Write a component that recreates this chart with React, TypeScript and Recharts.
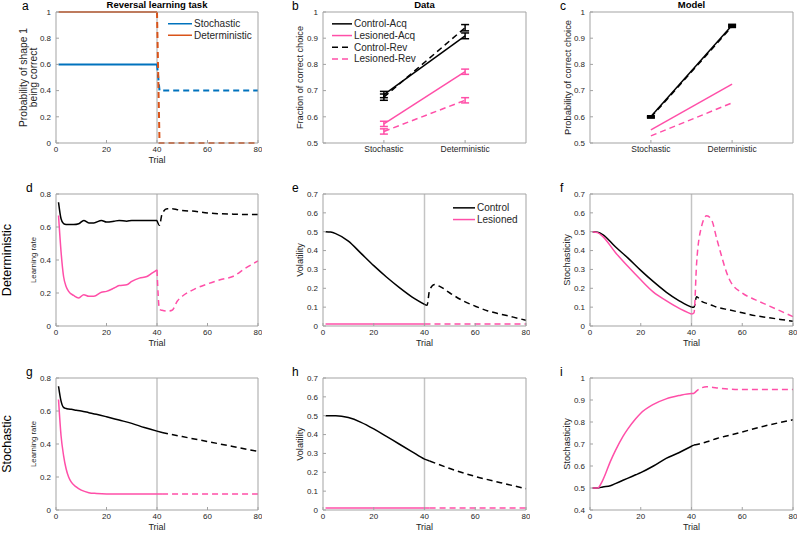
import React from 'react';
import { LineChart, Line, XAxis, YAxis, ReferenceLine, ErrorBar, Legend } from 'recharts';

const FONT = '"Liberation Sans", Arial, Helvetica, sans-serif';
const AXIS = '#a3a3a3';
const TXT = '#262626';
const BLACK = '#000000';
const PINK = '#ff4fa8';
const BLUE = '#0072bd';
const ORANGE = '#d95319';
const DASH = '6 4';

// a: task structure
const aNames = ['Stochastic', 'Deterministic'];
const aAcqT = [1, 40];
const aRevT = [40, 41, 80];
const aStochAcq = [0.6, 0.6];
const aStochRev = [0.6, 0.4, 0.4];
const aDetAcq = [1, 1];
const aDetRev = [1, 0, 0];

// b, c: choice accuracy
const bNames = ['Control-Acq', 'Lesioned-Acq', 'Control-Rev', 'Lesioned-Rev'];
const conditions = ['Stochastic', 'Deterministic'];
const condX = [1, 2];
const bCtrlAcq = [0.685, 0.909];
const bCtrlAcqErr = [0.012, 0.011];
const bLesAcq = [0.573, 0.772];
const bLesAcqErr = [0.01, 0.01];
const bCtrlRev = [0.675, 0.94];
const bCtrlRevErr = [0.012, 0.012];
const bLesRev = [0.544, 0.663];
const bLesRevErr = [0.01, 0.01];
const cCtrlAcq = [0.601, 0.949];
const cCtrlRev = [0.598, 0.945];
const cLesAcq = [0.55, 0.725];
const cLesRev = [0.527, 0.653];
const cErr = [0.003, 0.004];

// d: learning rate, deterministic
const dAcqT = [1, 2, 3, 4, 5, 7, 9, 11, 13, 15, 18, 20, 23, 25, 28, 30, 33, 36, 38, 40];
const dBlackAcq = [0.75, 0.65, 0.62, 0.615, 0.615, 0.615, 0.62, 0.64, 0.625, 0.625, 0.64, 0.63, 0.635, 0.64, 0.635, 0.64, 0.64, 0.64, 0.64, 0.64];
const dPinkAcq = [0.67, 0.45, 0.3, 0.24, 0.21, 0.185, 0.17, 0.19, 0.18, 0.18, 0.205, 0.21, 0.23, 0.245, 0.25, 0.27, 0.29, 0.3, 0.32, 0.34];
const dRevT = [40, 41, 42, 44, 46, 48, 50, 55, 60, 65, 70, 75, 80];
const dBlackRev = [0.64, 0.61, 0.68, 0.71, 0.71, 0.705, 0.7, 0.695, 0.685, 0.68, 0.678, 0.676, 0.675];
const dPinkRev = [0.34, 0.1, 0.095, 0.09, 0.095, 0.15, 0.18, 0.225, 0.255, 0.28, 0.3, 0.35, 0.395];

// e: volatility, deterministic
const eNames = ['Control', 'Lesioned'];
const eAcqT = [1, 3, 5, 10, 15, 20, 25, 30, 35, 40];
const eBlackAcq = [0.5, 0.498, 0.49, 0.45, 0.385, 0.32, 0.26, 0.205, 0.155, 0.115];
const eRevT = [40, 41, 42, 44, 46, 50, 55, 60, 65, 70, 75, 80];
const eBlackRev = [0.115, 0.11, 0.19, 0.22, 0.21, 0.175, 0.135, 0.105, 0.08, 0.063, 0.047, 0.03];
const ePinkT = [1, 40];
const ePinkRevT = [40, 80];
const ePink = [0.01, 0.01];

// f: stochasticity, deterministic
const fAcqT = [1, 3, 5, 10, 15, 20, 25, 30, 35, 40];
const fBlackAcq = [0.5, 0.497, 0.485, 0.42, 0.36, 0.295, 0.235, 0.18, 0.135, 0.1];
const fPinkAcq = [0.5, 0.495, 0.475, 0.39, 0.315, 0.245, 0.18, 0.135, 0.095, 0.063];
const fRevT = [40, 41, 42, 44, 46, 48, 50, 55, 60, 65, 70, 75, 80];
const fBlackRev = [0.1, 0.1, 0.155, 0.13, 0.12, 0.11, 0.1, 0.085, 0.07, 0.055, 0.045, 0.035, 0.025];
const fPinkRev = [0.063, 0.07, 0.33, 0.53, 0.585, 0.56, 0.46, 0.245, 0.175, 0.14, 0.11, 0.08, 0.05];

// g: learning rate, stochastic
const gAcqT = [1, 2, 3, 4, 5, 6, 8, 10, 13, 16, 20, 25, 30, 35, 40, 42];
const gBlackAcq = [0.75, 0.66, 0.622, 0.615, 0.612, 0.61, 0.605, 0.6, 0.59, 0.58, 0.565, 0.545, 0.525, 0.5, 0.478, 0.47];
const gPinkAcq = [0.67, 0.45, 0.33, 0.25, 0.2, 0.17, 0.14, 0.12, 0.105, 0.1, 0.097, 0.097, 0.097, 0.097, 0.097, 0.097];
const gRevT = [42, 50, 60, 70, 80];
const gBlackRev = [0.47, 0.445, 0.415, 0.385, 0.355];
const gPinkRev = [0.097, 0.097, 0.097, 0.097, 0.097];

// h: volatility, stochastic
const hAcqT = [1, 5, 10, 15, 20, 25, 30, 35, 40, 42];
const hBlackAcq = [0.5, 0.5, 0.49, 0.465, 0.43, 0.39, 0.35, 0.31, 0.27, 0.26];
const hRevT = [42, 50, 60, 70, 80];
const hBlackRev = [0.26, 0.22, 0.178, 0.145, 0.113];
const hPinkT = [1, 42];
const hPinkRevT = [42, 80];
const hPink = [0.01, 0.01];

// i: stochasticity, stochastic
const iAcqT = [1, 3, 5, 8, 10, 13, 15, 18, 20, 25, 30, 35, 40, 41];
const iPinkAcq = [0.5, 0.5, 0.535, 0.62, 0.67, 0.735, 0.77, 0.815, 0.84, 0.88, 0.905, 0.92, 0.93, 0.93];
const iBlackAcq = [0.5, 0.5, 0.505, 0.51, 0.52, 0.535, 0.545, 0.56, 0.57, 0.6, 0.635, 0.66, 0.69, 0.695];
const iRevT = [41, 43, 46, 50, 55, 60, 70, 80];
const iPinkRev = [0.93, 0.95, 0.96, 0.955, 0.95, 0.948, 0.948, 0.948];
const iBlackRev = [0.695, 0.7, 0.71, 0.725, 0.74, 0.755, 0.785, 0.81];

const trialTicks = [0, 20, 40, 60, 80];
const ticks01 = [0, 0.2, 0.4, 0.6, 0.8, 1];
const ticksAcc = [0.5, 0.6, 0.7, 0.8, 0.9, 1];
const ticksLr = [0, 0.2, 0.4, 0.6, 0.8];
const ticks07 = [0, 0.1, 0.2, 0.3, 0.4, 0.5, 0.6, 0.7];
const ticksStoch = [0.4, 0.5, 0.6, 0.7, 0.8, 0.9, 1];

const pts = (xs: number[], ys: number[], es?: number[]) =>
  xs.map((x, i) => ({ x, y: ys[i], e: es ? es[i] : 0 }));

const ML = 56;
const MT = 12;
const MR = 4;
const MB = 30;

function LegendBox({ payload, lineLen, rowH, order }: any) {
  const items = (payload || [])
    .filter((p: any) => p.type !== 'none')
    .slice()
    .sort((p: any, q: any) => order.indexOf(p.value) - order.indexOf(q.value));
  return (
    <svg width={lineLen + 90} height={items.length * rowH} style={{ display: 'block', overflow: 'visible' }}>
      {items.map((p: any, i: number) => {
        const cy = rowH / 2 + i * rowH;
        return (
          <g key={i}>
            <line x1={0} x2={lineLen} y1={cy} y2={cy} stroke={p.color} strokeWidth={1.5}
              strokeDasharray={p.payload && p.payload.strokeDasharray} />
            <text x={lineLen + 2} y={cy} dominantBaseline="central" fontSize={10} fontFamily={FONT} fill={TXT}>
              {p.value}
            </text>
          </g>
        );
      })}
    </svg>
  );
}

type PanelProps = {
  px: number; py: number; w: number; h: number;
  letter: string; letterX: number;
  title?: string;
  yLabel: string[];
  yLabelSize?: number;
  rowLabel?: string;
  xDomain: [number, number]; xTicks: number[]; xFormat?: (v: number) => string;
  xLabel?: string;
  yDomain: [number, number]; yTicks: number[];
  vline?: boolean;
  legend?: { x: number; y: number; lineLen: number; rowH: number; order: string[] };
  children: React.ReactNode;
};

function Panel(props: PanelProps) {
  const { px, py, w, h, letter, letterX, title, yLabel, yLabelSize = 9.2, rowLabel, xDomain, xTicks, xFormat,
    xLabel, yDomain, yTicks, vline, legend, children } = props;
  const W = ML + w + MR;
  const H = MT + h + MB;
  const sx = px - ML;
  const sy = py - MT;
  const cy = MT + h / 2;
  const tick = { fontSize: 8, fill: TXT, fontFamily: FONT };

  const topDecor = () => (
    <g fontFamily={FONT}>
      <text x={letterX - sx} y={MT - 2} fontSize={12} fill="#000">{letter}</text>
      {title && (
        <text x={ML + w / 2} y={MT - 4} fontSize={9.5} fontWeight="bold" textAnchor="middle" fill="#000">{title}</text>
      )}
    </g>
  );
  const leftDecor = () => (
    <g fontFamily={FONT} fill={TXT}>
      {yLabel.map((s, i) => {
        const x = ML - 23 - (yLabel.length - 1 - i) * 9.5;
        return (
          <text key={i} x={x} y={cy} fontSize={yLabelSize} textAnchor="middle" dominantBaseline="central"
            transform={`rotate(-90 ${x} ${cy})`}>{s}</text>
        );
      })}
      {rowLabel && (
        <text x={11 - sx} y={cy} fontSize={12.5} textAnchor="middle" fill="#000"
          transform={`rotate(-90 ${11 - sx} ${cy})`}>{rowLabel}</text>
      )}
    </g>
  );
  const bottomDecor = () =>
    xLabel ? (
      <text x={ML + w / 2} y={MT + h + 20} fontSize={9} textAnchor="middle" fontFamily={FONT} fill={TXT}>{xLabel}</text>
    ) : null;

  return (
    <div style={{ position: 'absolute', left: sx, top: sy, width: W, height: H }}>
      <LineChart width={W} height={H} margin={{ top: MT - 1, right: MR - 1, left: 0, bottom: 0 }}>
        <XAxis type="number" dataKey="x" domain={xDomain} ticks={xTicks} interval={0}
          tickSize={-3} tickMargin={6} stroke={AXIS} height={MB}
          tick={{ ...tick, fontSize: xFormat ? 8.5 : 8 }} tickFormatter={xFormat} label={bottomDecor} />
        <XAxis xAxisId="top" orientation="top" type="number" domain={xDomain} ticks={xTicks}
          allowDataOverflow tick={false} tickSize={-3} stroke={AXIS} height={1} label={topDecor} />
        <YAxis type="number" domain={yDomain} ticks={yTicks} interval={0} tickSize={-3} tickMargin={8}
          stroke={AXIS} width={ML} tick={tick} label={leftDecor} />
        <YAxis yAxisId="right" orientation="right" type="number" domain={yDomain} ticks={yTicks}
          allowDataOverflow tick={false} tickSize={-3} stroke={AXIS} width={1} />
        {vline && <ReferenceLine x={40} stroke="#c4c4c4" strokeWidth={1.5} />}
        {children}
        {legend && (
          <Legend layout="vertical" align="center" verticalAlign="middle"
            itemSorter={(item: any) => legend.order.indexOf(item.value)}
            wrapperStyle={{ left: legend.x - sx, top: legend.y - legend.rowH / 2 - sy, width: 'auto' }}
            content={(p: any) => (
              <LegendBox payload={p.payload} lineLen={legend.lineLen} rowH={legend.rowH} order={legend.order} />
            )} />
        )}
      </LineChart>
    </div>
  );
}

function series(xs: number[], ys: number[], color: string, opts: any = {}) {
  const { dashed, name, width = 1.5, type = 'monotone', errs, key } = opts;
  return (
    <Line key={key} data={pts(xs, ys, errs)} dataKey="y" name={name} type={type} stroke={color}
      strokeWidth={width} strokeDasharray={dashed ? DASH : undefined} dot={false}
      legendType={name ? 'line' : 'none'} isAnimationActive={false}>
      {errs && <ErrorBar dataKey="e" width={4} stroke={color} strokeWidth={1.5} direction="y" />}
    </Line>
  );
}

const condFormat = (v: number) => conditions[Math.round(v) - 1] || '';

export default function App() {
  return (
    <div style={{ position: 'absolute', left: 0, top: 0, width: 798, height: 533, overflow: 'hidden', background: '#fff', fontFamily: FONT }}>
      <Panel px={56} py={12} w={202} h={131} letter="a" letterX={22} title="Reversal learning task"
        yLabel={['Probability of shape 1', 'being correct']} yLabelSize={10.3} xDomain={[0, 80]} xTicks={trialTicks} xLabel="Trial"
        yDomain={[0, 1]} yTicks={ticks01} vline legend={{ x: 168, y: 24, lineLen: 24, rowH: 11.5, order: aNames }}>
        {series(aAcqT, aStochAcq, BLUE, { key: 1, name: aNames[0], type: 'linear', width: 2 })}
        {series(aAcqT, aDetAcq, ORANGE, { key: 2, name: aNames[1], type: 'linear', width: 2 })}
        {series(aRevT, aStochRev, BLUE, { key: 3, dashed: true, type: 'linear', width: 2 })}
        {series(aRevT, aDetRev, ORANGE, { key: 4, dashed: true, type: 'linear', width: 2 })}
      </Panel>

      <Panel px={323} py={12} w={203} h={131} letter="b" letterX={292} title="Data"
        yLabel={['Fraction of correct choice']} xDomain={[0.25, 2.75]} xTicks={condX} xFormat={condFormat}
        yDomain={[0.5, 1]} yTicks={ticksAcc} legend={{ x: 332, y: 24, lineLen: 20, rowH: 11.7, order: bNames }}>
        {series(condX, bCtrlAcq, BLACK, { key: 1, name: bNames[0], type: 'linear', errs: bCtrlAcqErr })}
        {series(condX, bLesAcq, PINK, { key: 2, name: bNames[1], type: 'linear', errs: bLesAcqErr })}
        {series(condX, bCtrlRev, BLACK, { key: 3, name: bNames[2], type: 'linear', dashed: true, errs: bCtrlRevErr })}
        {series(condX, bLesRev, PINK, { key: 4, name: bNames[3], type: 'linear', dashed: true, errs: bLesRevErr })}
      </Panel>

      <Panel px={590} py={12} w={203} h={131} letter="c" letterX={560} title="Model"
        yLabel={['Probability of correct choice']} yLabelSize={9.4} xDomain={[0.25, 2.75]} xTicks={condX} xFormat={condFormat}
        yDomain={[0.5, 1]} yTicks={ticksAcc}>
        {series(condX, cCtrlAcq, BLACK, { key: 1, type: 'linear', errs: cErr })}
        {series(condX, cLesAcq, PINK, { key: 2, type: 'linear' })}
        {series(condX, cCtrlRev, BLACK, { key: 3, type: 'linear', dashed: true, errs: cErr })}
        {series(condX, cLesRev, PINK, { key: 4, type: 'linear', dashed: true })}
      </Panel>

      <Panel px={56} py={194} w={202} h={132} letter="d" letterX={26} yLabel={['Learning rate']} yLabelSize={7.8}
        rowLabel="Deterministic" xDomain={[0, 80]} xTicks={trialTicks} xLabel="Trial"
        yDomain={[0, 0.8]} yTicks={ticksLr} vline>
        {series(dAcqT, dBlackAcq, BLACK, { key: 1 })}
        {series(dAcqT, dPinkAcq, PINK, { key: 2 })}
        {series(dRevT, dBlackRev, BLACK, { key: 3, dashed: true })}
        {series(dRevT, dPinkRev, PINK, { key: 4, dashed: true })}
      </Panel>

      <Panel px={323} py={194} w={203} h={132} letter="e" letterX={292} yLabel={['Volatility']}
        xDomain={[0, 80]} xTicks={trialTicks} xLabel="Trial" yDomain={[0, 0.7]} yTicks={ticks07} vline
        legend={{ x: 453, y: 207.5, lineLen: 22, rowH: 11.7, order: eNames }}>
        {series(eAcqT, eBlackAcq, BLACK, { key: 1, name: eNames[0] })}
        {series(ePinkT, ePink, PINK, { key: 2, name: eNames[1], type: 'linear' })}
        {series(eRevT, eBlackRev, BLACK, { key: 3, dashed: true })}
        {series(ePinkRevT, ePink, PINK, { key: 4, dashed: true, type: 'linear' })}
      </Panel>

      <Panel px={590} py={194} w={203} h={132} letter="f" letterX={560} yLabel={['Stochasticity']}
        xDomain={[0, 80]} xTicks={trialTicks} xLabel="Trial" yDomain={[0, 0.7]} yTicks={ticks07} vline>
        {series(fAcqT, fBlackAcq, BLACK, { key: 1 })}
        {series(fAcqT, fPinkAcq, PINK, { key: 2 })}
        {series(fRevT, fBlackRev, BLACK, { key: 3, dashed: true })}
        {series(fRevT, fPinkRev, PINK, { key: 4, dashed: true })}
      </Panel>

      <Panel px={56} py={378} w={202} h={132} letter="g" letterX={26} yLabel={['Learning rate']} yLabelSize={7.8}
        rowLabel="Stochastic" xDomain={[0, 80]} xTicks={trialTicks} xLabel="Trial"
        yDomain={[0, 0.8]} yTicks={ticksLr} vline>
        {series(gAcqT, gBlackAcq, BLACK, { key: 1 })}
        {series(gAcqT, gPinkAcq, PINK, { key: 2 })}
        {series(gRevT, gBlackRev, BLACK, { key: 3, dashed: true })}
        {series(gRevT, gPinkRev, PINK, { key: 4, dashed: true })}
      </Panel>

      <Panel px={323} py={378} w={203} h={132} letter="h" letterX={292} yLabel={['Volatility']}
        xDomain={[0, 80]} xTicks={trialTicks} xLabel="Trial" yDomain={[0, 0.7]} yTicks={ticks07} vline>
        {series(hAcqT, hBlackAcq, BLACK, { key: 1 })}
        {series(hPinkT, hPink, PINK, { key: 2, type: 'linear' })}
        {series(hRevT, hBlackRev, BLACK, { key: 3, dashed: true })}
        {series(hPinkRevT, hPink, PINK, { key: 4, dashed: true, type: 'linear' })}
      </Panel>

      <Panel px={590} py={378} w={203} h={132} letter="i" letterX={560} yLabel={['Stochasticity']}
        xDomain={[0, 80]} xTicks={trialTicks} xLabel="Trial" yDomain={[0.4, 1]} yTicks={ticksStoch} vline>
        {series(iAcqT, iBlackAcq, BLACK, { key: 1 })}
        {series(iAcqT, iPinkAcq, PINK, { key: 2 })}
        {series(iRevT, iBlackRev, BLACK, { key: 3, dashed: true })}
        {series(iRevT, iPinkRev, PINK, { key: 4, dashed: true })}
      </Panel>
    </div>
  );
}
